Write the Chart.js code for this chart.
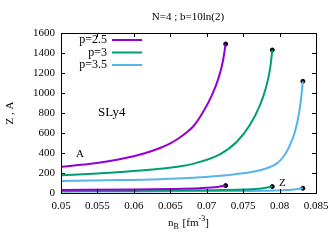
<!DOCTYPE html>
<html>
<head>
<meta charset="utf-8">
<script src="https://cdn.jsdelivr.net/npm/chart.js@4"></script>
<style>
  html, body { margin: 0; padding: 0; background: #fff; }
</style>
</head>
<body>
<canvas id="chartCanvas" width="336" height="240"></canvas>
<script>
// values
const nbP25A = [0.05, 0.0538, 0.0565, 0.059, 0.0615, 0.0636, 0.0648, 0.0659, 0.0671, 0.0682, 0.0695, 0.0707, 0.0716, 0.0722, 0.0726];
const aP25   = [262, 290, 318, 352, 398, 450, 488, 535, 598, 670, 810, 977, 1144, 1310, 1490];
const nbP3A  = [0.05, 0.055, 0.0583, 0.0636, 0.0662, 0.0682, 0.0718, 0.0741, 0.0759, 0.0773, 0.0781, 0.0787, 0.079];
const aP3    = [177, 195, 210, 242, 265, 294, 387, 510, 677, 877, 1044, 1244, 1430];
const nbP35A = [0.05, 0.0565, 0.0636, 0.068, 0.0727, 0.0773, 0.0786, 0.0796, 0.0805, 0.0812, 0.0821, 0.0827, 0.083, 0.0832];
const aP35   = [120, 127, 138, 152, 177, 227, 258, 294, 360, 444, 610, 810, 977, 1117];

const nbP25Z = [0.05, 0.06, 0.065, 0.069, 0.0715, 0.0726];
const zP25   = [31, 35, 40, 48, 60, 74];
const nbP3Z  = [0.05, 0.06, 0.07, 0.075, 0.0775, 0.079];
const zP3    = [18, 21, 27, 34, 44, 64];
const nbP35Z = [0.05, 0.06, 0.07, 0.078, 0.081, 0.0832];
const zP35   = [14, 16, 19, 23, 30, 47];

const seriesLabels = ['p=2.5', 'p=3', 'p=3.5'];
const seriesColors = ['#9400D3', '#009E73', '#56B4E9'];

const xTicks = [0.05, 0.055, 0.06, 0.065, 0.07, 0.075, 0.08, 0.085];
const yTicks = [0, 200, 400, 600, 800, 1000, 1200, 1400, 1600];

const FONT = '"Liberation Serif", "Times New Roman", serif';

function pts(xs, ys) {
  return xs.map((x, i) => ({ x: x, y: ys[i] }));
}

function curve(xs, ys, color) {
  return {
    data: pts(xs, ys),
    showLine: true,
    borderColor: color,
    backgroundColor: color,
    borderWidth: 2,
    pointRadius: 0,
    cubicInterpolationMode: 'monotone'
  };
}

const endXs = [nbP25A, nbP3A, nbP35A, nbP25Z, nbP3Z, nbP35Z].map(a => a[a.length - 1]);
const endYs = [aP25, aP3, aP35, zP25, zP3, zP35].map(a => a[a.length - 1]);

// text, frame, inward ticks, legend
const decorPlugin = {
  id: 'decor',
  afterDraw(chart) {
    const ctx = chart.ctx;
    const a = chart.chartArea;
    const xs = chart.scales.x;
    const ys = chart.scales.y;
    ctx.save();

    // ticks on all four sides, pointing in
    ctx.strokeStyle = '#000';
    ctx.lineWidth = 1;
    ctx.beginPath();
    xTicks.forEach(v => {
      const px = Math.round(xs.getPixelForValue(v)) + 0.5;
      ctx.moveTo(px, a.bottom); ctx.lineTo(px, a.bottom - 4);
      ctx.moveTo(px, a.top); ctx.lineTo(px, a.top + 4);
    });
    yTicks.forEach(v => {
      const py = Math.round(ys.getPixelForValue(v)) + 0.5;
      ctx.moveTo(a.left, py); ctx.lineTo(a.left + 4, py);
      ctx.moveTo(a.right, py); ctx.lineTo(a.right - 4, py);
    });
    ctx.stroke();
    ctx.strokeRect(Math.round(a.left) + 0.5, Math.round(a.top) + 0.5,
      Math.round(a.right - a.left), Math.round(a.bottom - a.top));

    ctx.fillStyle = '#000';
    // title
    ctx.font = '11px ' + FONT;
    ctx.textAlign = 'center';
    ctx.textBaseline = 'middle';
    ctx.fillText('N=4 ; b=10ln(2)', 188, 17);

    // y axis title
    ctx.save();
    ctx.translate(10, 113);
    ctx.rotate(-Math.PI / 2);
    ctx.fillText('Z , A', 0, 0);
    ctx.restore();

    // x axis title with sub and superscript
    ctx.textAlign = 'left';
    ctx.textBaseline = 'alphabetic';
    let x = 168;
    const base = 226;
    ctx.font = '11px ' + FONT;
    ctx.fillText('n', x, base); x += ctx.measureText('n').width;
    ctx.font = '8px ' + FONT;
    ctx.fillText('B', x, base + 3); x += ctx.measureText('B').width + 1;
    ctx.font = '11px ' + FONT;
    ctx.fillText(' [fm', x, base); x += ctx.measureText(' [fm').width;
    ctx.font = '8px ' + FONT;
    ctx.fillText('-3', x, base - 5); x += ctx.measureText('-3').width;
    ctx.font = '11px ' + FONT;
    ctx.fillText(']', x, base);

    // annotations
    ctx.font = '13px ' + FONT;
    ctx.textBaseline = 'middle';
    ctx.fillText('SLy4', 98, 113);
    ctx.font = '11px ' + FONT;
    ctx.fillText('A', 76, 154);
    ctx.fillText('Z', 279, 183);

    // legend
    ctx.font = '12px ' + FONT;
    ctx.textAlign = 'right';
    seriesLabels.forEach((lab, i) => {
      const y = 40 + i * 12.5;
      ctx.fillStyle = '#000';
      ctx.fillText(lab, 107, y);
      ctx.strokeStyle = seriesColors[i];
      ctx.lineWidth = 2;
      ctx.beginPath();
      ctx.moveTo(112, y); ctx.lineTo(142, y);
      ctx.stroke();
    });
    ctx.restore();
  }
};

const chartCanvas = document.getElementById('chartCanvas');

new Chart(chartCanvas, {
  type: 'scatter',
  data: {
    datasets: [
      curve(nbP25A, aP25, seriesColors[0]),
      curve(nbP25Z, zP25, seriesColors[0]),
      curve(nbP3A, aP3, seriesColors[1]),
      curve(nbP3Z, zP3, seriesColors[1]),
      curve(nbP35A, aP35, seriesColors[2]),
      curve(nbP35Z, zP35, seriesColors[2]),
      {
        data: pts(endXs, endYs),
        pointRadius: 2,
        pointBackgroundColor: '#000',
        pointBorderColor: '#000',
        pointBorderWidth: 1,
        showLine: false
      }
    ]
  },
  options: {
    responsive: false,
    animation: false,
    devicePixelRatio: 1,
    layout: { padding: { top: 33, right: 20, left: 0, bottom: 0 } },
    plugins: { legend: { display: false }, tooltip: { enabled: false }, title: { display: false } },
    scales: {
      x: {
        type: 'linear',
        min: 0.05,
        max: 0.085,
        afterFit: s => { s.height = 47; },
        afterBuildTicks: s => { s.ticks = xTicks.map(v => ({ value: v })); },
        grid: { display: false, drawTicks: false },
        border: { display: false },
        ticks: {
          autoSkip: false,
          maxRotation: 0,
          padding: 7,
          color: '#000',
          font: { family: FONT, size: 11 },
          callback: v => String(+v.toFixed(3))
        }
      },
      y: {
        min: 0,
        max: 1600,
        afterFit: s => { s.width = 61; },
        afterBuildTicks: s => { s.ticks = yTicks.map(v => ({ value: v })); },
        grid: { display: false, drawTicks: false },
        border: { display: false },
        ticks: {
          padding: 6,
          color: '#000',
          font: { family: FONT, size: 11 },
          callback: v => String(v)
        }
      }
    }
  },
  plugins: [decorPlugin]
});
</script>
</body>
</html>
